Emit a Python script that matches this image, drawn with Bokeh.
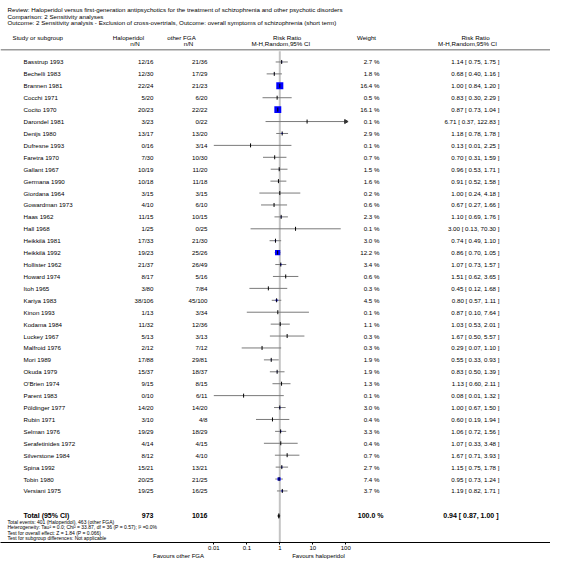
import math
from bokeh.plotting import figure
from bokeh.models import Range1d, LogScale, LogAxis, LinearAxis, FixedTicker, ColumnDataSource
from bokeh.core.properties import value
from bokeh.embed import file_html
from bokeh.resources import INLINE

# ---------------- data ----------------
studies = ["Basstrup 1993", "Bechelli 1983", "Brannen 1981", "Cocchi 1971", "Cocito 1970",
           "Darondel 1981", "Denijs 1980", "Dufresne 1993", "Faretra 1970", "Gallant 1967",
           "Germana 1990", "Giordana 1964", "Gowardman 1973", "Haas 1962", "Hall 1968",
           "Heikkilä 1981", "Heikkilä 1992", "Hollister 1962", "Howard 1974", "Itoh 1965",
           "Kariya 1983", "Kinon 1993", "Kodama 1984", "Luckey 1967", "Malfroid 1976",
           "Mori 1989", "Okuda 1979", "O'Brien 1974", "Parent 1983", "Pöldinger 1977",
           "Rubin 1971", "Selman 1976", "Serafetinides 1972", "Silverstone 1984", "Spina 1992",
           "Tobin 1980", "Versiani 1975"]
hal_events = [12, 12, 22, 5, 20, 3, 13, 0, 7, 10, 10, 3, 4, 11, 1, 17, 19, 21, 8, 3,
              38, 1, 11, 5, 2, 17, 15, 9, 0, 14, 3, 19, 4, 8, 15, 20, 19]
hal_total = [16, 30, 24, 20, 23, 23, 17, 16, 30, 19, 18, 15, 10, 15, 25, 33, 23, 37, 17, 80,
             106, 13, 32, 13, 12, 88, 37, 15, 10, 20, 10, 29, 14, 12, 21, 25, 25]
oth_events = [21, 17, 21, 6, 22, 0, 13, 3, 10, 11, 11, 3, 6, 10, 0, 21, 25, 26, 5, 7,
              45, 3, 12, 3, 7, 29, 18, 8, 6, 14, 4, 18, 4, 4, 13, 21, 16]
oth_total = [36, 29, 23, 20, 22, 22, 20, 14, 30, 20, 18, 15, 10, 15, 25, 30, 26, 49, 16, 84,
             100, 34, 36, 13, 12, 81, 37, 15, 11, 20, 8, 29, 15, 10, 21, 25, 25]
weights = [2.7, 1.8, 16.4, 0.5, 16.1, 0.1, 2.9, 0.1, 0.7, 1.5, 1.6, 0.2, 0.6, 2.3, 0.1,
           3.0, 12.2, 3.4, 0.6, 0.3, 4.5, 0.1, 1.1, 0.3, 0.3, 1.9, 1.9, 1.3, 0.1, 3.0,
           0.4, 3.3, 0.4, 0.7, 2.7, 7.4, 3.7]
rr = [1.14, 0.68, 1.00, 0.83, 0.87, 6.71, 1.18, 0.13, 0.70, 0.96, 0.91, 1.00, 0.67, 1.10, 3.00,
      0.74, 0.86, 1.07, 1.51, 0.45, 0.80, 0.87, 1.03, 1.67, 0.29, 0.55, 0.83, 1.13, 0.08, 1.00,
      0.60, 1.06, 1.07, 1.67, 1.15, 0.95, 1.19]
rr_lo = [0.75, 0.40, 0.84, 0.30, 0.73, 0.37, 0.78, 0.01, 0.31, 0.53, 0.52, 0.24, 0.27, 0.69, 0.13,
         0.49, 0.70, 0.73, 0.62, 0.12, 0.57, 0.10, 0.53, 0.50, 0.07, 0.33, 0.50, 0.60, 0.01, 0.67,
         0.19, 0.72, 0.33, 0.71, 0.75, 0.73, 0.82]
rr_hi = [1.75, 1.16, 1.20, 2.29, 1.04, 122.83, 1.78, 2.25, 1.59, 1.71, 1.58, 4.18, 1.66, 1.76, 70.30,
         1.10, 1.05, 1.57, 3.65, 1.68, 1.11, 7.64, 2.01, 5.57, 1.10, 0.93, 1.39, 2.11, 1.32, 1.50,
         1.94, 1.56, 3.48, 3.93, 1.78, 1.24, 1.71]

total_hal_n = 973
total_oth_n = 1016
total_weight = "100.0 %"
total_rr, total_lo, total_hi = 0.94, 0.87, 1.00

axis_ticks = [0.01, 0.1, 1, 10, 100]
axis_tick_labels = ["0.01", "0.1", "1", "10", "100"]
favours_labels = ["Favours other FGA", "Favours haloperidol"]

header_lines = [
    "Review:  Haloperidol versus first-generation antipsychotics for the treatment of schizophrenia and other psychotic disorders",
    "Comparison:  2 Sensitivity analyses",
    "Outcome:  2 Sensitivity analysis - Exclusion of cross-overtrials, Outcome: overall symptoms of schizophrenia (short term)",
]
footer_lines = [
    "Total events: 401 (Haloperidol), 463 (other FGA)",
    "Heterogeneity: Tau² = 0.0; Chi² = 33.87, df = 36 (P = 0.57); I² =0.0%",
    "Test for overall effect: Z = 1.84 (P = 0.066)",
    "Test for subgroup differences: Not applicable",
]

# ---------------- layout constants (picture pixel units) ----------------
FONT = value("Liberation Sans")
ROW0, ROW_H = 61.7, 11.96
X_ONE, DECADE = 279.3, 33.0
XMIN, XMAX = 0.01, 100
W, H, FRAME_H = 550, 561, 544
FAVOURS_X = [178, 318]

p = figure(width=W, height=H, x_range=Range1d(0, W), y_range=Range1d(FRAME_H, 0),
           output_backend="svg", toolbar_location=None,
           x_axis_location=None, y_axis_location=None,
           min_border_left=0, min_border_right=0, min_border_top=0, min_border_bottom=H - FRAME_H,
           outline_line_color=None)
for g in p.grid:
    g.visible = False

lo_lim = 10 ** ((0 - X_ONE) / DECADE)
hi_lim = 10 ** ((W - X_ONE) / DECADE)
p.extra_x_ranges = {"rr": Range1d(lo_lim, hi_lim)}
p.extra_x_scales = {"rr": LogScale()}

ax = LogAxis(x_range_name="rr", ticker=FixedTicker(ticks=axis_ticks, minor_ticks=[]))
ax.major_label_overrides = dict(zip(axis_ticks, axis_tick_labels))
ax.axis_line_color = "black"
ax.major_tick_line_color = "black"
ax.major_tick_out = 2
ax.major_tick_in = 0
ax.minor_tick_out = 0
ax.minor_tick_in = 0
ax.major_label_standoff = 1
ax.major_label_text_font = "Liberation Sans"
ax.major_label_text_font_size = "6px"
ax.major_label_text_color = "black"
p.add_layout(ax, "below")

fav = LinearAxis(ticker=FixedTicker(ticks=FAVOURS_X, minor_ticks=[]))
fav.major_label_overrides = dict(zip(FAVOURS_X, favours_labels))
fav.axis_line_color = None
fav.major_tick_line_color = None
fav.minor_tick_line_color = None
fav.major_tick_out = 0
fav.major_tick_in = 0
fav.major_label_standoff = 0
fav.major_label_text_font = "Liberation Sans"
fav.major_label_text_font_size = "6px"
fav.major_label_text_color = "black"
p.add_layout(fav, "below")

n = len(studies)
ys = [ROW0 + ROW_H * i for i in range(n)]
y_total = 517.3

# line of no effect
p.segment(x0=[1], y0=[51], x1=[1], y1=[544], x_range_name="rr", line_color="#c4c4c4", line_width=2)
# header separator
p.segment(x0=[0], y0=[49.5], x1=[W], y1=[49.5], line_color="#9a9a9a", line_width=1.5)

# CIs
clo = [max(v, XMIN) for v in rr_lo]
chi = [min(v, XMAX) for v in rr_hi]
p.segment(x0=clo, y0=ys, x1=chi, y1=ys, x_range_name="rr", line_color="#7a7a7a", line_width=1)
arrow_x = [XMAX for v in rr_hi if v > XMAX]
arrow_y = [y for v, y in zip(rr_hi, ys) if v > XMAX]
p.scatter(x=arrow_x, y=arrow_y, marker="triangle", size=4, angle=-math.pi / 2,
          x_range_name="rr", fill_color="#333333", line_color="#333333")
sizes = [0.43 * w for w in weights]
p.scatter(x=rr, y=ys, marker="square", size=sizes, x_range_name="rr",
          fill_color="#0000ff", line_color=None)
p.segment(x0=rr, y0=[y - 2 for y in ys], x1=rr, y1=[y + 2 for y in ys], x_range_name="rr",
          line_color="black", line_width=1)

# total diamond
p.patch(x=[total_lo, total_rr, total_hi, total_rr], y=[y_total, y_total - 2.5, y_total, y_total + 2.5],
        x_range_name="rr", fill_color="black", line_color="black", line_width=0.5)

# row texts
src = ColumnDataSource(dict(
    y=ys, name=studies,
    hal=[f"{e}/{t}" for e, t in zip(hal_events, hal_total)],
    oth=[f"{e}/{t}" for e, t in zip(oth_events, oth_total)],
    w=[f"{w:.1f} %" for w in weights],
    ci=[f"{r:.2f} [ {l:.2f}, {h:.2f} ]" for r, l, h in zip(rr, rr_lo, rr_hi)],
))
common = dict(text_font=FONT, text_font_size="6.2px", text_baseline="middle", text_color="black")
p.text(x=23, y="y", text="name", source=src, text_align="left", **common)
p.text(x=153, y="y", text="hal", source=src, text_align="right", **common)
p.text(x=207, y="y", text="oth", source=src, text_align="right", **common)
p.text(x=379, y="y", text="w", source=src, text_align="right", **common)
p.text(x=499, y="y", text="ci", source=src, text_align="right", **common)

# header texts
p.text(x=[7] * 3, y=[9.3, 15.7, 22.5], text=header_lines, text_align="left", **common)
hdr = dict(
    x=[12, 128, 134.5, 181, 188, 286.7, 280.3, 366, 475, 467],
    y=[36.7, 36.7, 43.5, 36.7, 43.5, 36.7, 43.5, 36.7, 36.7, 43.5],
    t=["Study or subgroup", "Haloperidol", "n/N", "other FGA", "n/N", "Risk Ratio",
       "M-H,Random,95% CI", "Weight", "Risk Ratio", "M-H,Random,95% CI"],
    a=["left"] + ["center"] * 9,
)
p.text(x="x", y="y", text="t", text_align="a", source=ColumnDataSource(hdr), **common)

# total row
bold = dict(text_font=FONT, text_font_size="7px", text_font_style="bold",
            text_baseline="middle", text_color="black")
p.text(x=[23], y=[y_total], text=["Total (95% CI)"], text_align="left", **bold)
p.text(x=[153, 207], y=[y_total] * 2, text=[str(total_hal_n), str(total_oth_n)], text_align="right", **bold)
p.text(x=[383], y=[y_total], text=[total_weight], text_align="right", **bold)
p.text(x=[498], y=[y_total],
       text=[f"{total_rr:.2f} [ {total_lo:.2f}, {total_hi:.2f} ]"], text_align="right", **bold)

# footer
small = dict(text_font=FONT, text_font_size="5px", text_baseline="middle", text_color="black")
p.text(x=[7] * 4, y=[523, 528.6, 534.2, 539.8], text=footer_lines, text_align="left", **small)

open("out.html", "w").write(file_html(p, INLINE))
